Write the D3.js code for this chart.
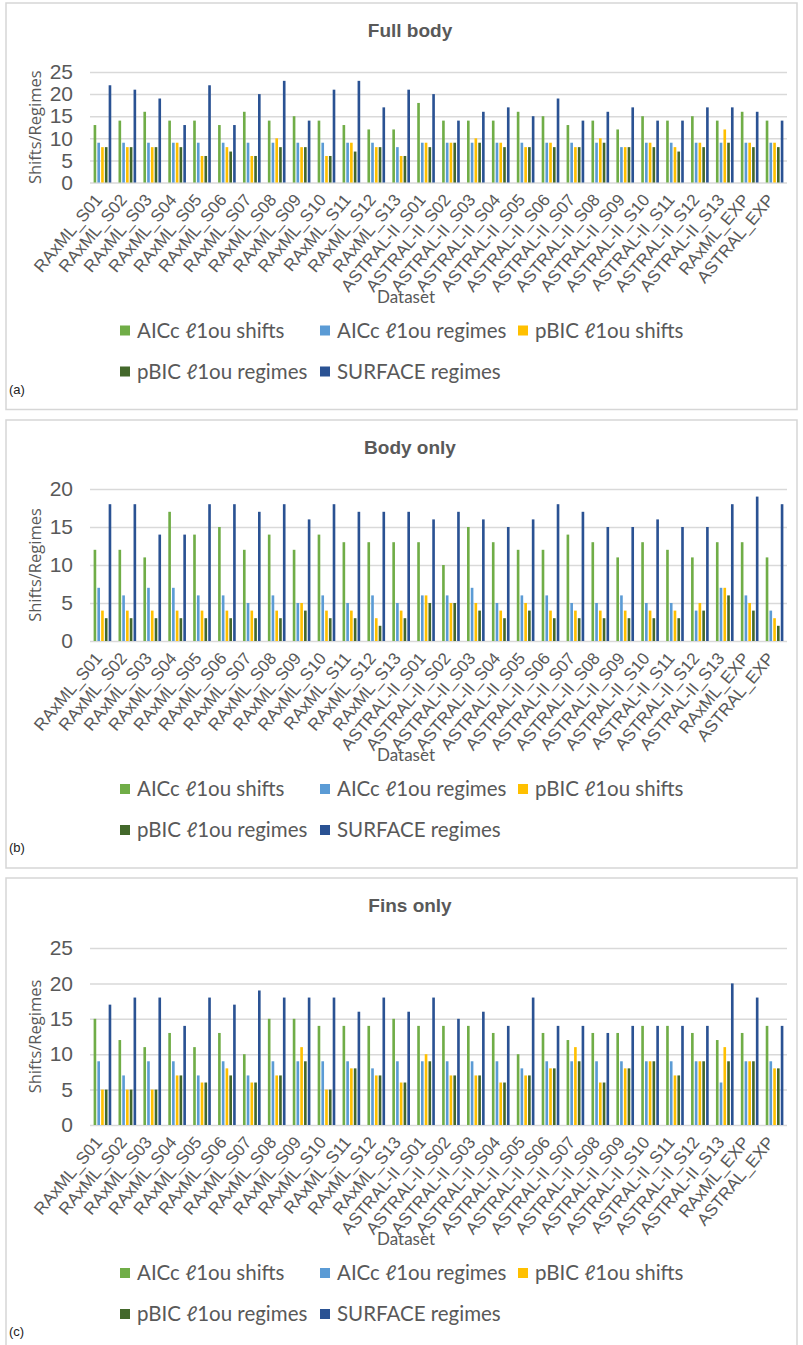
<!DOCTYPE html>
<html>
<head>
<meta charset="utf-8">
<script src="https://cdn.jsdelivr.net/npm/d3@7"></script>
<style>
  body { margin: 0; background: #fff; }
  svg { display: block; }
</style>
</head>
<body>
<svg id="chart" width="803" height="1345"></svg>
<script>
// categories and series
var categories = ["RAxML_S01","RAxML_S02","RAxML_S03","RAxML_S04","RAxML_S05","RAxML_S06","RAxML_S07",
  "RAxML_S08","RAxML_S09","RAxML_S10","RAxML_S11","RAxML_S12","RAxML_S13",
  "ASTRAL-II_S01","ASTRAL-II_S02","ASTRAL-II_S03","ASTRAL-II_S04","ASTRAL-II_S05","ASTRAL-II_S06","ASTRAL-II_S07",
  "ASTRAL-II_S08","ASTRAL-II_S09","ASTRAL-II_S10","ASTRAL-II_S11","ASTRAL-II_S12","ASTRAL-II_S13",
  "RAxML_EXP","ASTRAL_EXP"];
var seriesNames = ["AICc ℓ1ou shifts","AICc ℓ1ou regimes","pBIC ℓ1ou shifts","pBIC ℓ1ou regimes","SURFACE regimes"];
var seriesColors = ["#70AD47","#5B9BD5","#FFC000","#43682B","#2A5293"];

// (a) full body
var fullAiccShifts   = [13,14,16,14,14,13,16,14,15,14,13,12,12,18,14,14,14,16,15,13,14,12,15,14,15,14,16,14];
var fullAiccRegimes  = [9,9,9,9,9,9,9,9,9,9,9,9,8,9,9,9,9,9,9,9,9,8,9,9,9,9,9,9];
var fullPbicShifts   = [8,8,8,9,6,8,6,10,8,6,9,8,6,9,9,10,9,8,9,8,10,8,9,8,9,12,9,9];
var fullPbicRegimes  = [8,8,8,8,6,7,6,8,8,6,7,8,6,8,9,9,8,8,8,8,9,8,8,7,8,9,8,8];
var fullSurface      = [22,21,19,13,22,13,20,23,14,21,23,17,21,20,14,16,17,15,19,14,16,17,14,14,17,17,16,14];

// (b) body only
var bodyAiccShifts   = [12,12,11,17,14,15,12,14,12,14,13,13,13,13,10,15,13,12,12,14,13,11,13,12,11,13,13,11];
var bodyAiccRegimes  = [7,6,7,7,6,6,5,6,5,6,5,6,5,6,6,7,5,6,6,5,5,6,5,5,4,7,6,4];
var bodyPbicShifts   = [4,4,4,4,4,4,4,4,5,4,4,3,4,6,5,5,4,5,4,4,4,4,4,4,5,7,5,3];
var bodyPbicRegimes  = [3,3,3,3,3,3,3,3,4,3,3,2,3,5,5,4,3,4,3,3,3,3,3,3,4,6,4,2];
var bodySurface      = [18,18,14,14,18,18,17,18,16,18,17,17,17,16,17,16,15,16,18,17,15,15,16,15,15,18,19,18];

// (c) fins only
var finsAiccShifts   = [15,12,11,13,11,13,10,15,15,14,14,14,15,14,14,14,13,10,13,12,13,13,14,14,13,12,13,14];
var finsAiccRegimes  = [9,7,9,9,7,9,7,9,9,9,9,8,9,9,9,9,9,8,9,9,9,9,9,9,9,6,9,9];
var finsPbicShifts   = [5,5,5,7,6,8,6,7,11,5,8,7,6,10,7,7,6,7,8,11,6,8,9,7,9,11,9,8];
var finsPbicRegimes  = [5,5,5,7,6,7,6,7,9,5,8,7,6,9,7,7,6,7,8,9,6,8,9,7,9,9,9,8];
var finsSurface      = [17,18,18,14,18,17,19,18,18,18,16,18,16,18,15,16,14,18,14,14,13,14,14,14,14,20,18,14];

var yTicksA = [0,5,10,15,20,25];
var yTicksB = [0,5,10,15,20];
var yTicksC = [0,5,10,15,20,25];

var svg = d3.select("#chart");
var plotLeft = 90, plotRight = 787;
var grey = "#595959";

function drawPanel(title, tag, series, ticks, top, yTop, yZero) {
  var g = svg.append("g");

  // frame
  g.append("rect")
    .attr("x", 6).attr("y", top)
    .attr("width", 791).attr("height", yZero + 227 - top)
    .attr("fill", "#fff")
    .attr("stroke", "#d6d6d6")
    .attr("stroke-width", 1.5);

  // title
  g.append("text")
    .attr("x", 410).attr("y", top + 34)
    .attr("text-anchor", "middle")
    .style("font-family", "Liberation Sans, Arial, sans-serif")
    .style("font-size", "19px")
    .style("font-weight", "bold")
    .attr("fill", grey)
    .text(title);

  var x0 = d3.scaleBand()
    .domain(categories)
    .range([plotLeft, plotRight])
    .paddingInner(0.2)
    .paddingOuter(0.1);

  var x1 = d3.scaleBand()
    .domain(seriesNames)
    .range([0, x0.bandwidth()])
    .padding(0.3);

  var y = d3.scaleLinear()
    .domain([0, d3.max(ticks)])
    .range([yZero, yTop]);

  // gridlines + y labels
  var yAxis = g.append("g")
    .attr("transform", "translate(" + plotLeft + ",0)")
    .call(d3.axisLeft(y).tickValues(ticks).tickSize(-(plotRight - plotLeft)).tickPadding(17));
  yAxis.select(".domain").remove();
  yAxis.selectAll("line").attr("stroke", "#d9d9d9").attr("stroke-width", 1.5);
  yAxis.selectAll("text")
    .style("font-family", "Liberation Sans, Arial, sans-serif")
    .style("font-size", "21px")
    .attr("fill", grey);

  // y title
  g.append("text")
    .attr("transform", "translate(35," + ((yTop + yZero) / 2) + ") rotate(-90)")
    .attr("text-anchor", "middle")
    .attr("dy", "0.35em")
    .style("font-family", "Open Sans, sans-serif")
    .style("font-size", "16.5px")
    .attr("fill", grey)
    .text("Shifts/Regimes");

  // bars
  var groups = g.append("g").selectAll("g")
    .data(categories)
    .join("g")
    .attr("transform", function(d) { return "translate(" + x0(d) + ",0)"; });

  groups.selectAll("rect")
    .data(function(d, i) {
      return seriesNames.map(function(s, j) { return {key: s, idx: j, value: series[j][i]}; });
    })
    .join("rect")
    .attr("x", function(d) { return x1(d.key); })
    .attr("y", function(d) { return y(d.value); })
    .attr("width", x1.bandwidth())
    .attr("height", function(d) { return yZero - y(d.value); })
    .attr("fill", function(d) { return seriesColors[d.idx]; });

  // x axis labels
  var xAxis = g.append("g")
    .attr("transform", "translate(0," + yZero + ")")
    .call(d3.axisBottom(x0).tickSize(0));
  xAxis.select(".domain").remove();
  xAxis.selectAll("text")
    .attr("x", 0).attr("y", 0)
    .attr("dy", "0.35em")
    .attr("text-anchor", "end")
    .attr("transform", "translate(-4,14) rotate(-50)")
    .style("font-family", "Liberation Sans, Arial, sans-serif")
    .style("font-size", "17px")
    .attr("fill", grey);

  // x title
  g.append("text")
    .attr("x", 406).attr("y", yZero + 120)
    .attr("text-anchor", "middle")
    .style("font-family", "Lato, sans-serif")
    .style("font-size", "17px")
    .attr("fill", grey)
    .text("Dataset");

  // legend
  var legendPos = [[120,0],[320,0],[518,0],[120,1],[320,1]];
  var legend = g.append("g").selectAll("g")
    .data(seriesNames)
    .join("g")
    .attr("transform", function(d, i) {
      return "translate(" + legendPos[i][0] + "," + (yZero + 148 + legendPos[i][1] * 41) + ")";
    });
  legend.append("rect")
    .attr("x", 0).attr("y", -5)
    .attr("width", 10).attr("height", 10)
    .attr("fill", function(d, i) { return seriesColors[i]; });
  legend.append("text")
    .attr("x", 17).attr("dy", "0.35em")
    .style("font-family", "Lato, sans-serif")
    .style("font-size", "20.5px")
    .attr("fill", grey)
    .text(function(d) { return d; });

  // panel tag
  g.append("text")
    .attr("x", 9).attr("y", yZero + 211)
    .style("font-family", "Liberation Sans, Arial, sans-serif")
    .style("font-size", "13px")
    .attr("fill", "#222")
    .text(tag);
}

drawPanel("Full body", "(a)",
  [fullAiccShifts, fullAiccRegimes, fullPbicShifts, fullPbicRegimes, fullSurface],
  yTicksA, 3, 72, 182.5);
drawPanel("Body only", "(b)",
  [bodyAiccShifts, bodyAiccRegimes, bodyPbicShifts, bodyPbicRegimes, bodySurface],
  yTicksB, 420, 489, 641);
drawPanel("Fins only", "(c)",
  [finsAiccShifts, finsAiccRegimes, finsPbicShifts, finsPbicRegimes, finsSurface],
  yTicksC, 878, 948, 1125);
</script>
</body>
</html>
